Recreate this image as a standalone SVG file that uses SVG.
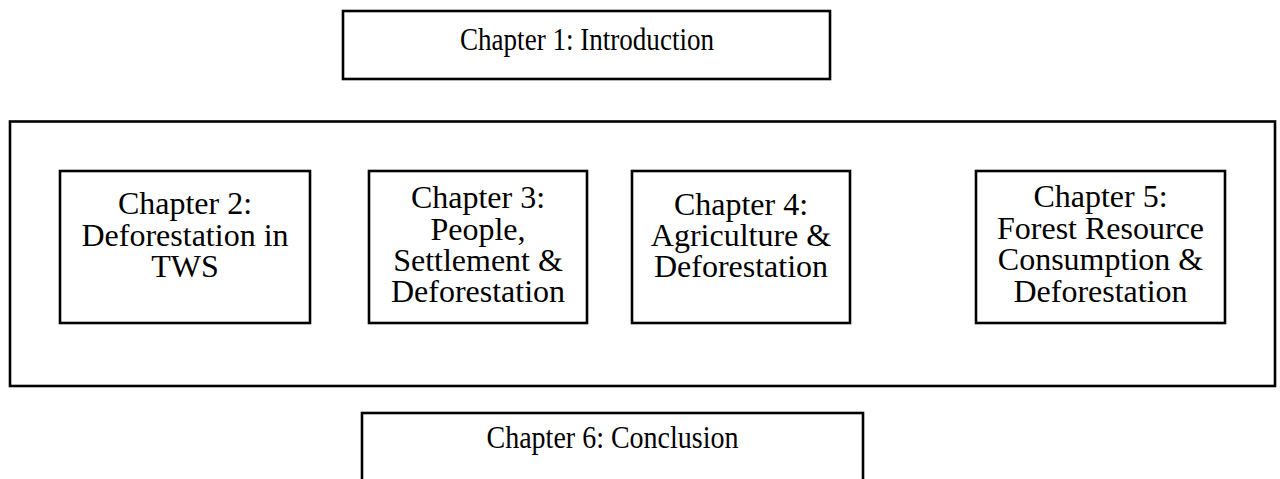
<svg xmlns="http://www.w3.org/2000/svg" width="1280" height="479" viewBox="0 0 1280 479">
<style>
.box{fill:#fff;stroke:#000;stroke-width:2.6}
.frame{fill:none;stroke:#000;stroke-width:2.6}
text{font-family:"Liberation Serif","Times New Roman",serif;font-size:32px;fill:#000;text-anchor:middle}
</style>
<rect width="1280" height="479" fill="#fff"/>
<g id="container">
<rect class="frame" x="10" y="121.5" width="1265" height="264.5"/>
</g>
<g id="ch1">
<rect class="box" x="343" y="11" width="487" height="68"/>
<text x="587" y="50" textLength="254" lengthAdjust="spacingAndGlyphs">Chapter 1: Introduction</text>
</g>
<g id="ch2">
<rect class="box" x="60" y="171" width="250" height="152"/>
<text x="185" y="214">Chapter 2:</text>
<text x="185" y="246">Deforestation in</text>
<text x="185" y="277">TWS</text>
</g>
<g id="ch3">
<rect class="box" x="369" y="171" width="218" height="152"/>
<text x="478" y="208">Chapter 3:</text>
<text x="478" y="239.5">People,</text>
<text x="478" y="271">Settlement &amp;</text>
<text x="478" y="302">Deforestation</text>
</g>
<g id="ch4">
<rect class="box" x="632" y="171" width="218" height="152"/>
<text x="741" y="215">Chapter 4:</text>
<text x="741" y="246">Agriculture &amp;</text>
<text x="741" y="277">Deforestation</text>
</g>
<g id="ch5">
<rect class="box" x="976" y="171" width="249" height="152"/>
<text x="1100.5" y="207">Chapter 5:</text>
<text x="1100.5" y="238.5">Forest Resource</text>
<text x="1100.5" y="270">Consumption &amp;</text>
<text x="1100.5" y="301.5">Deforestation</text>
</g>
<g id="ch6">
<rect class="box" x="362" y="413" width="501" height="90"/>
<text x="612.5" y="448" textLength="252" lengthAdjust="spacingAndGlyphs">Chapter 6: Conclusion</text>
</g>
<g id="connectors"></g>
</svg>
